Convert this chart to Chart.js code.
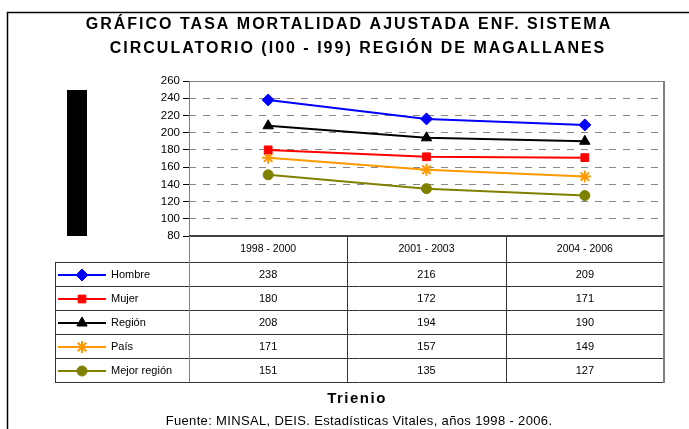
<!DOCTYPE html>
<html>
<head>
<meta charset="utf-8">
<script src="https://cdn.jsdelivr.net/npm/chart.js@4.4.1/dist/chart.umd.min.js"></script>
<style>
  html, body { margin: 0; padding: 0; background: #fff; }
  #wrap { width: 689px; height: 429px; position: relative; }
</style>
</head>
<body>
<div id="wrap"><canvas id="chart" width="689" height="429"></canvas></div>
<script>
// Data
const periods = ['1998 - 2000', '2001 - 2003', '2004 - 2006'];
const hombre = [238, 216, 209];
const mujer = [180, 172, 171];
const region = [208, 194, 190];
const pais = [171, 157, 149];
const mejorRegion = [151, 135, 127];
const seriesNames = ['Hombre', 'Mujer', 'Región', 'País', 'Mejor región'];
const yTicks = [80, 100, 120, 140, 160, 180, 200, 220, 240, 260];

const titleLines = [
    'GRÁFICO TASA MORTALIDAD AJUSTADA ENF. SISTEMA',
    'CIRCULATORIO (I00 - I99) REGIÓN DE MAGALLANES'
];
const xTitle = 'Trienio';
const footnote = 'Fuente: MINSAL, DEIS. Estadísticas Vitales, años 1998 - 2006.';

const FONT = '"Liberation Sans", Arial, sans-serif';

function makeSet(label, data, color, style, radius) {
    return {
        label: label,
        data: data,
        borderColor: color,
        backgroundColor: color,
        borderWidth: 2,
        pointStyle: style,
        pointRadius: radius,
        pointHoverRadius: radius,
        pointBorderWidth: style === 'star' ? 2 : 1,
        pointBorderColor: color,
        pointBackgroundColor: color,
        tension: 0
    };
}

const datasets = [
    makeSet(seriesNames[0], hombre, '#0000ff', 'rectRot', 6),
    makeSet(seriesNames[1], mujer, '#ff0000', 'rect', 5.5),
    makeSet(seriesNames[2], region, '#000000', 'triangle', 6),
    makeSet(seriesNames[3], pais, '#ff9900', 'star', 6),
    makeSet(seriesNames[4], mejorRegion, '#808000', 'circle', 5)
];

// Table geometry under the plot
const rowH = 24;
const headerH = 26;
const tableLeft = 55;

const framePlugin = {
    id: 'frame',
    beforeDatasetsDraw(chart) {
        // plot area border: grey left/top/right, black baseline
        const { ctx, chartArea: a } = chart;
        ctx.save();
        ctx.lineWidth = 1;
        ctx.strokeStyle = '#808080';
        ctx.beginPath();
        ctx.moveTo(a.left + 0.5, a.bottom);
        ctx.lineTo(a.left + 0.5, a.top + 0.5);
        ctx.lineTo(a.right, a.top + 0.5);
        ctx.stroke();
        ctx.lineWidth = 2;
        ctx.beginPath();
        ctx.moveTo(a.right, a.top);
        ctx.lineTo(a.right, a.bottom);
        ctx.stroke();
        ctx.strokeStyle = '#000';
        ctx.lineWidth = 1.5;
        ctx.beginPath();
        ctx.moveTo(a.left, a.bottom);
        ctx.lineTo(a.right, a.bottom);
        ctx.stroke();
        ctx.restore();
    },
    afterDraw(chart) {
        const { ctx, chartArea: a } = chart;
        const xs = chart.scales.x;
        const W = chart.width;
        ctx.save();

        // outer frame
        ctx.strokeStyle = '#000';
        ctx.lineWidth = 1.5;
        ctx.beginPath();
        ctx.moveTo(7.5, 429);
        ctx.lineTo(7.5, 12.5);
        ctx.lineTo(W, 12.5);
        ctx.stroke();

        // title
        ctx.fillStyle = '#000';
        ctx.textAlign = 'center';
        ctx.textBaseline = 'middle';
        ctx.font = 'bold 16px ' + FONT;
        ctx.letterSpacing = '2px';
        ctx.fillText(titleLines[0], 349, 24.5);
        ctx.fillText(titleLines[1], 358, 48.5);

        // redacted axis title block
        ctx.letterSpacing = '0px';
        ctx.fillRect(67, 90, 20, 146);

        // table lines
        const colW = (a.right - a.left) / periods.length;
        const top = a.bottom;
        const rowsTop = top + headerH;
        const bottom = rowsTop + rowH * seriesNames.length;
        ctx.strokeStyle = '#333';
        ctx.lineWidth = 1;
        ctx.beginPath();
        for (let i = 0; i <= seriesNames.length; i++) {
            const y = Math.round(rowsTop + i * rowH) + 0.5;
            ctx.moveTo(tableLeft, y);
            ctx.lineTo(a.right, y);
        }
        ctx.moveTo(tableLeft + 0.5, rowsTop);
        ctx.lineTo(tableLeft + 0.5, bottom + 0.5);
        for (let j = 1; j < periods.length; j++) {
            const x = Math.round(a.left + j * colW) + 0.5;
            ctx.moveTo(x, top);
            ctx.lineTo(x, bottom + 0.5);
        }
        ctx.stroke();
        ctx.strokeStyle = '#808080';
        ctx.beginPath();
        ctx.moveTo(a.left + 0.5, top);
        ctx.lineTo(a.left + 0.5, bottom + 0.5);
        ctx.stroke();
        ctx.lineWidth = 2;
        ctx.beginPath();
        ctx.moveTo(a.right, top);
        ctx.lineTo(a.right, bottom + 1);
        ctx.stroke();

        // header labels
        ctx.fillStyle = '#000';
        ctx.font = '10.5px ' + FONT;
        ctx.textAlign = 'center';
        periods.forEach((p, j) => {
            ctx.fillText(p, xs.getPixelForValue(j), top + headerH / 2);
        });

        // rows: legend key + values
        ctx.font = '11px ' + FONT;
        chart.data.datasets.forEach((ds, i) => {
            const cy = rowsTop + i * rowH + rowH / 2 + 1;
            ctx.strokeStyle = ds.borderColor;
            ctx.fillStyle = ds.borderColor;
            ctx.lineWidth = 2;
            ctx.beginPath();
            ctx.moveTo(58, cy);
            ctx.lineTo(106, cy);
            ctx.stroke();
            ctx.lineWidth = ds.pointBorderWidth;
            Chart.helpers.drawPoint(ctx, {
                pointStyle: ds.pointStyle,
                radius: ds.pointRadius,
                borderWidth: ds.pointBorderWidth,
                rotation: 0
            }, 82, cy);
            ctx.fillStyle = '#000';
            ctx.textAlign = 'left';
            ctx.fillText(ds.label, 111, cy);
            ctx.textAlign = 'center';
            ds.data.forEach((v, j) => {
                ctx.fillText(String(v), xs.getPixelForValue(j), cy);
            });
        });

        // x title and source
        ctx.font = 'bold 15px ' + FONT;
        ctx.letterSpacing = '1.5px';
        ctx.fillText(xTitle, 357, 399);
        ctx.font = '13px ' + FONT;
        ctx.letterSpacing = '0.35px';
        ctx.fillText(footnote, 359, 421);
        ctx.restore();
    }
};

new Chart(document.getElementById('chart'), {
    type: 'line',
    data: { labels: periods, datasets: datasets },
    options: {
        responsive: false,
        animation: false,
        events: [],
        layout: { padding: { left: 0, right: 25, top: 81, bottom: 193 } },
        plugins: {
            legend: { display: false },
            tooltip: { enabled: false }
        },
        scales: {
            x: { display: false, offset: true },
            y: {
                min: 80,
                max: 260,
                afterBuildTicks(scale) {
                    scale.ticks = yTicks.map(v => ({ value: v }));
                },
                afterFit(scale) { scale.width = 189; },
                grid: {
                    color: c => (c.tick.value === 80 || c.tick.value === 260) ? 'transparent' : '#888',
                    tickColor: '#000',
                    tickLength: 6,
                    lineWidth: 1
                },
                border: { display: false, dash: [7, 7] },
                ticks: {
                    color: '#000',
                    padding: 3,
                    font: { family: FONT, size: 11.5 }
                }
            }
        }
    },
    plugins: [framePlugin]
});
</script>
</body>
</html>
